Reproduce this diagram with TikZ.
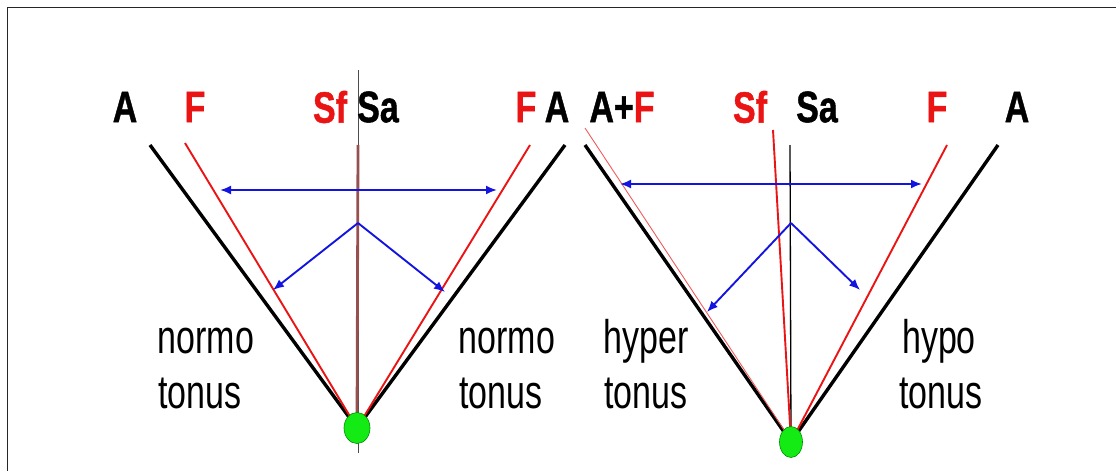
\documentclass[tikz,border=0pt]{standalone}
\usepackage{fontspec}
\setmainfont{Liberation Sans}
\newfontfamily\heavyfont{Liberation Sans Bold}[FakeBold=1.2]
\usetikzlibrary{arrows.meta,shapes.geometric}
\definecolor{lred}{RGB}{235,20,20}
\definecolor{lblue}{RGB}{20,20,225}
\definecolor{lgreen}{RGB}{20,235,20}
\definecolor{lbrown}{RGB}{150,80,80}
\newcommand{\lsq}[1]{\scalebox{0.85}[1.1]{#1}}
\newcommand{\tsq}[1]{\scalebox{0.85}[1.18]{#1}}
\begin{document}
\begin{tikzpicture}[x=1pt,y=-1pt,
  lab/.style={font=\fontsize{40}{44}\heavyfont, inner sep=0pt, anchor=center},
  txt/.style={font=\fontsize{40}{48}\selectfont, inner sep=0pt, align=center, anchor=center},
  blk/.style={draw=black, line width=3.4pt},
  rd/.style={draw=lred, line width=1.9pt},
  rdthin/.style={draw=lred!70, line width=0.9pt},
  bl/.style={draw=lblue, line width=1.9pt},
  arr/.style={bl, -{Latex[length=11pt,width=9pt]}},
  darr/.style={bl, {Latex[length=11pt,width=9pt]}-{Latex[length=11pt,width=9pt]}},
  pivot/.style={ellipse, fill=lgreen, draw=green!55!black, line width=0.6pt, inner sep=0pt}
]
\useasboundingbox (0,0) rectangle (1116,471);
\draw[line width=1.4pt, draw=black!85] (7.5,471) -- (7.5,7.5) -- (1116,7.5);

% ---------- left figure ----------
\coordinate (P1) at (357,428);
\coordinate (a1) at (150,145);
\coordinate (f1) at (185,143);
\coordinate (f2) at (530,145);
\coordinate (a2) at (565,145);
\coordinate (s1top) at (358,70);
\coordinate (s1bot) at (358,453);
\coordinate (s1red) at (358,145);
\draw[blk] (a1) -- (P1);
\draw[blk] (a2) -- (P1);
\draw[rd] (f1) -- (P1);
\draw[rd] (f2) -- (P1);
\draw[draw=black!70, line width=1pt] (s1top) -- (s1bot);
\draw[draw=lbrown, line width=2.8pt] (s1red) -- (P1);
\node[pivot, minimum width=26pt, minimum height=31pt] (g1) at (P1) {};

\coordinate (h1l) at (220,190);
\coordinate (h1r) at (497,190);
\draw[darr] (h1l) -- (h1r);
\coordinate (v1) at (358,223);
\coordinate (v1l) at (273,290);
\coordinate (v1r) at (445,292);
\draw[arr] (v1) -- (v1l);
\draw[arr] (v1) -- (v1r);

\node[lab] (tA1) at (125,107) {\lsq{A}};
\node[lab, text=lred] (tF1) at (195,107) {\lsq{F}};
\node[lab, text=lred] (tSf1) at (330,107) {\lsq{Sf}};
\node[lab] (tSa1) at (378,107) {\lsq{Sa}};
\node[lab, text=lred] (tF2) at (526,107) {\lsq{F}};
\node[lab] (tA2) at (557,107) {\lsq{A}};

\node[txt] (n1) at (206,341) {\tsq{normo}};
\node[txt] (t1) at (200,393) {\tsq{tonus}};
\node[txt] (n2) at (507,341) {\tsq{normo}};
\node[txt] (t2) at (501,393) {\tsq{tonus}};

% ---------- right figure ----------
\coordinate (P2) at (791,442);
\coordinate (a3) at (585,145);
\coordinate (f3) at (585,128);
\coordinate (sf2) at (773,130);
\coordinate (sa2) at (790,145);
\coordinate (f4) at (947,145);
\coordinate (a4) at (998,145);
\draw[blk] (a3) -- (P2);
\draw[rdthin] (f3) -- ([xshift=1pt]P2);
\draw[blk] (a4) -- (P2);
\draw[rd] (f4) -- (P2);
\draw[draw=black, line width=1.3pt] (sa2) -- (P2);
\draw[rd] (sf2) -- (P2);
\node[pivot, minimum width=23pt, minimum height=31pt] (g2) at (P2) {};

\coordinate (h2l) at (620,184);
\coordinate (h2r) at (922,184);
\draw[darr] (h2l) -- (h2r);
\coordinate (v2) at (791,223);
\coordinate (v2l) at (707,312);
\coordinate (v2r) at (860,290);
\draw[arr] (v2) -- (v2l);
\draw[arr] (v2) -- (v2r);

\node[lab] (tAF) at (622,107) {\lsq{A+\textcolor{lred}{F}}};
\node[lab, text=lred] (tSf2) at (750,107) {\lsq{Sf}};
\node[lab] (tSa2) at (817,107) {\lsq{Sa}};
\node[lab, text=lred] (tF4) at (937,107) {\lsq{F}};
\node[lab] (tA4) at (1017,107) {\lsq{A}};

\node[txt] (n3) at (646,341) {\tsq{hyper}};
\node[txt] (t3) at (646,393) {\tsq{tonus}};
\node[txt] (n4) at (939,341) {\tsq{hypo}};
\node[txt] (t4) at (941,393) {\tsq{tonus}};
\end{tikzpicture}
\end{document}
